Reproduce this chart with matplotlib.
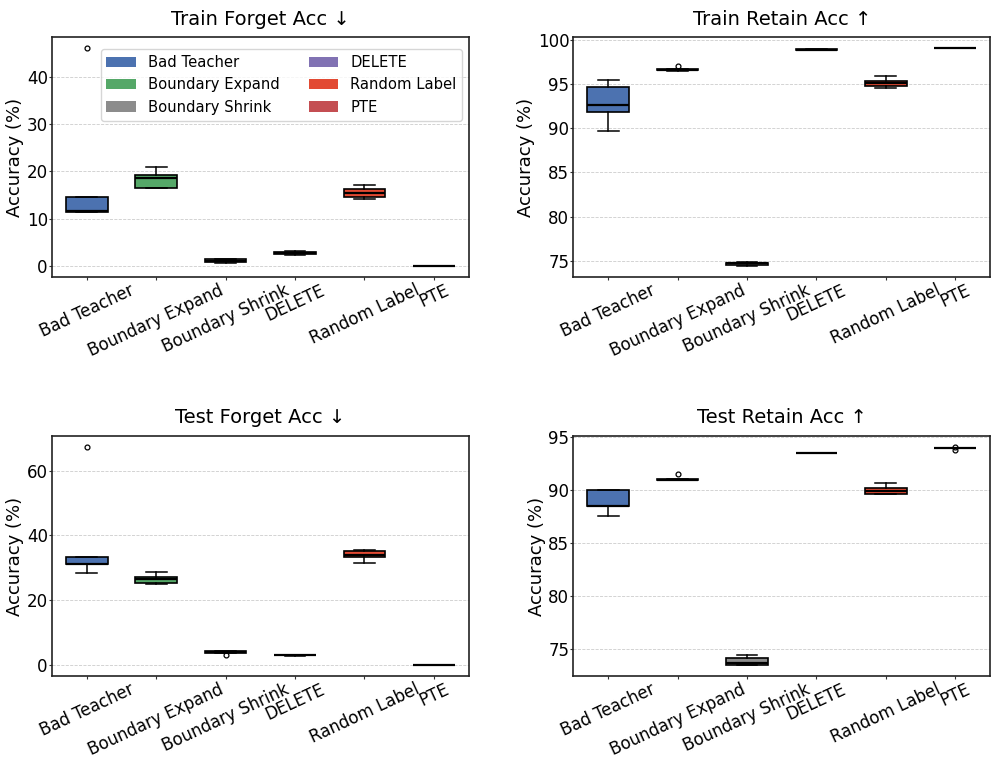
import matplotlib
matplotlib.use("Agg")
import matplotlib.pyplot as plt
from matplotlib.patches import Patch

# Unlearning methods and their colours
methods = ["Bad Teacher", "Boundary Expand", "Boundary Shrink", "DELETE", "Random Label", "PTE"]
colors = ["#4C72B0", "#55A868", "#8C8C8C", "#8172B3", "#E24A33", "#C44E52"]

# Accuracy (%) over runs, one list per method
train_forget = [
    [11.4, 11.5, 11.6, 14.6, 46.1],
    [16.4, 16.6, 18.6, 19.3, 20.9],
    [0.7, 0.8, 1.0, 1.4, 1.5],
    [2.4, 2.5, 2.8, 3.0, 3.1],
    [14.2, 14.6, 15.4, 16.2, 17.1],
    [0.0, 0.0, 0.0, 0.0, 0.0],
]
train_retain = [
    [89.7, 91.8, 92.6, 94.6, 95.4],
    [96.5, 96.55, 96.6, 96.7, 97.0],
    [74.4, 74.5, 74.7, 74.8, 74.9],
    [98.8, 98.85, 98.85, 98.9, 98.9],
    [94.55, 94.8, 95.1, 95.35, 95.9],
    [99.0, 99.0, 99.05, 99.05, 99.05],
]
test_forget = [
    [28.5, 31.1, 31.3, 33.4, 67.3],
    [25.1, 25.3, 26.6, 27.3, 28.6],
    [3.0, 3.8, 4.0, 4.2, 4.4],
    [2.9, 3.0, 3.0, 3.1, 3.1],
    [31.6, 33.4, 33.8, 35.3, 35.6],
    [0.0, 0.0, 0.0, 0.0, 0.0],
]
test_retain = [
    [87.5, 88.45, 88.5, 89.97, 90.0],
    [90.9, 90.93, 90.95, 90.98, 91.45],
    [73.45, 73.5, 73.6, 74.1, 74.37],
    [93.43, 93.45, 93.45, 93.47, 93.48],
    [89.6, 89.62, 89.87, 90.16, 90.66],
    [93.8, 93.91, 93.92, 93.93, 94.05],
]

panels = [
    ("Train Forget Acc ↓", train_forget),
    ("Train Retain Acc ↑", train_retain),
    ("Test Forget Acc ↓", test_forget),
    ("Test Retain Acc ↑", test_retain),
]


def draw_box(ax, title, data):
    """Draw one coloured box plot panel."""
    bp = ax.boxplot(data, patch_artist=True, widths=0.6,
                    medianprops=dict(color="black", linewidth=1.6),
                    boxprops=dict(edgecolor="black", linewidth=1.2),
                    whiskerprops=dict(color="black", linewidth=1.1),
                    capprops=dict(color="black", linewidth=1.1),
                    flierprops=dict(marker="o", markersize=3.5, markerfacecolor="none",
                                    markeredgecolor="black", markeredgewidth=0.9))
    for patch, c in zip(bp["boxes"], colors):
        patch.set_facecolor(c)
    ax.set_title(title, fontsize=14, pad=9)
    ax.set_ylabel("Accuracy (%)", fontsize=13, labelpad=2)
    ax.set_xticks(range(1, len(methods) + 1))
    ax.set_xticklabels(methods, rotation=25, ha="center", fontsize=12)
    ax.tick_params(axis="y", labelsize=12)
    ax.tick_params(length=2, pad=1, color="#333333")
    ax.grid(axis="y", linestyle="--", color="#cccccc", linewidth=0.6)
    ax.set_axisbelow(True)
    for s in ax.spines.values():
        s.set_linewidth(1.2)
        s.set_color("#222222")


fig, axes = plt.subplots(2, 2, figsize=(9.96, 7.62), dpi=100)
plt.subplots_adjust(left=0.0522, right=0.994, top=0.9514, bottom=0.1129,
                    wspace=0.252, hspace=0.6625)

for ax, (title, data) in zip(axes.flat, panels):
    draw_box(ax, title, data)

handles = [Patch(facecolor=c, label=m) for m, c in zip(methods, colors)]
axes[0, 0].legend(handles=handles, ncol=2, fontsize=10.6, loc="upper right",
                  bbox_to_anchor=(0.985, 0.95), borderaxespad=0)

plt.savefig("out.png", dpi=100)
